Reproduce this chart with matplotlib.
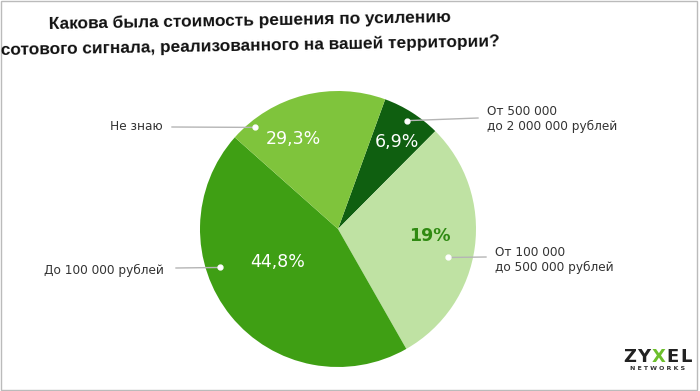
import numpy as np
import matplotlib.pyplot as plt
from matplotlib.patches import Rectangle

# slices clockwise from the top (sizes as drawn on the slide)
categories = ['От 500 000\nдо 2 000 000 рублей', 'От 100 000\nдо 500 000 рублей',
              'До 100 000 рублей', 'Не знаю']
shares = [6.9, 29.3, 44.8, 19.0]
pct_labels = ['6,9%', '19%', '44,8%', '29,3%']
colors = ['#0f5f10', '#bfe2a3', '#3f9f14', '#7fc43c']

fig = plt.figure(figsize=(7, 3.91), dpi=100)
W, H = 700, 391
cx, cy, R = 338, 229, 138
ax = fig.add_axes([(cx - R) / W, (H - cy - R) / H, 2 * R / W, 2 * R / H])
wedges, _ = ax.pie(shares, colors=colors, startangle=70, counterclock=False,
                   radius=1, wedgeprops=dict(linewidth=0))
ax.set_xlim(-1, 1)
ax.set_ylim(-1, 1)
ax.axis('off')

# percent labels inside slices
pct_r = [0.76, 0.67, 0.5, 0.73]
pct_shift = [-2, 3, -10, 12]
pct_color = ['white', '#2f8a12', 'white', 'white']
pct_weight = ['normal', 'bold', 'normal', 'normal']
for w, t, r, s, c, fw in zip(wedges, pct_labels, pct_r, pct_shift, pct_color, pct_weight):
    a = np.deg2rad((w.theta1 + w.theta2) / 2 + s)
    ax.text(r * np.cos(a), r * np.sin(a), t, ha='center', va='center',
            fontsize=12.5, color=c, fontweight=fw)

# callouts: dot inside slice, grey line, label
dot_r = [0.93, 0.82, 0.9, 0.95]
dot_shift = [0, -7, -21, 25]
line_end = [(478, 118), (486, 257), (176, 268), (172, 127)]
text_pos = [(487, 119), (495, 260), (164, 270), (163, 127)]
text_ha = ['left', 'left', 'right', 'right']
for w, lab, r, s, le, tp, ha in zip(wedges, categories, dot_r, dot_shift,
                                    line_end, text_pos, text_ha):
    a = np.deg2rad((w.theta1 + w.theta2) / 2 + s)
    x0, y0 = r * np.cos(a), r * np.sin(a)
    x1, y1 = (le[0] - cx) / R, (cy - le[1]) / R
    ax.plot([x0, x1], [y0, y1], color='#b5b5b5', lw=1, clip_on=False)
    ax.plot(x0, y0, 'o', ms=3.5, color='white', clip_on=False)
    ax.text((tp[0] - cx) / R, (cy - tp[1]) / R, lab, ha=ha, va='center',
            fontsize=8.7, color='#333333', linespacing=1.25, clip_on=False)

fig.text(250 / W, 1 - 33 / H,
         'Какова была стоимость решения по усилению\nсотового сигнала, реализованного на вашей территории?',
         ha='center', va='center', fontsize=12.4, fontweight='bold',
         family=['Liberation Sans', 'DejaVu Sans'],
         color='#111111', linespacing=1.75, rotation=1)

# logo
for ch, x, c in zip('ZYXEL', [630, 644, 659, 673, 686],
                    ['#222222', '#222222', '#6cbf2c', '#222222', '#222222']):
    fig.text(x / W, 1 - 357 / H, ch, ha='center', va='center', fontsize=13,
             fontweight='bold', color=c)
fig.text(658 / W, 1 - 369 / H, 'N E T W O R K S', ha='center', va='center',
         fontsize=4.5, fontweight='bold', color='#333333')

fig.patches.append(Rectangle((0.002, 0.003), 0.994, 0.994, transform=fig.transFigure,
                             fill=False, edgecolor='#bbbbbb', lw=1))

fig.savefig('out.png', dpi=100, facecolor='white')
